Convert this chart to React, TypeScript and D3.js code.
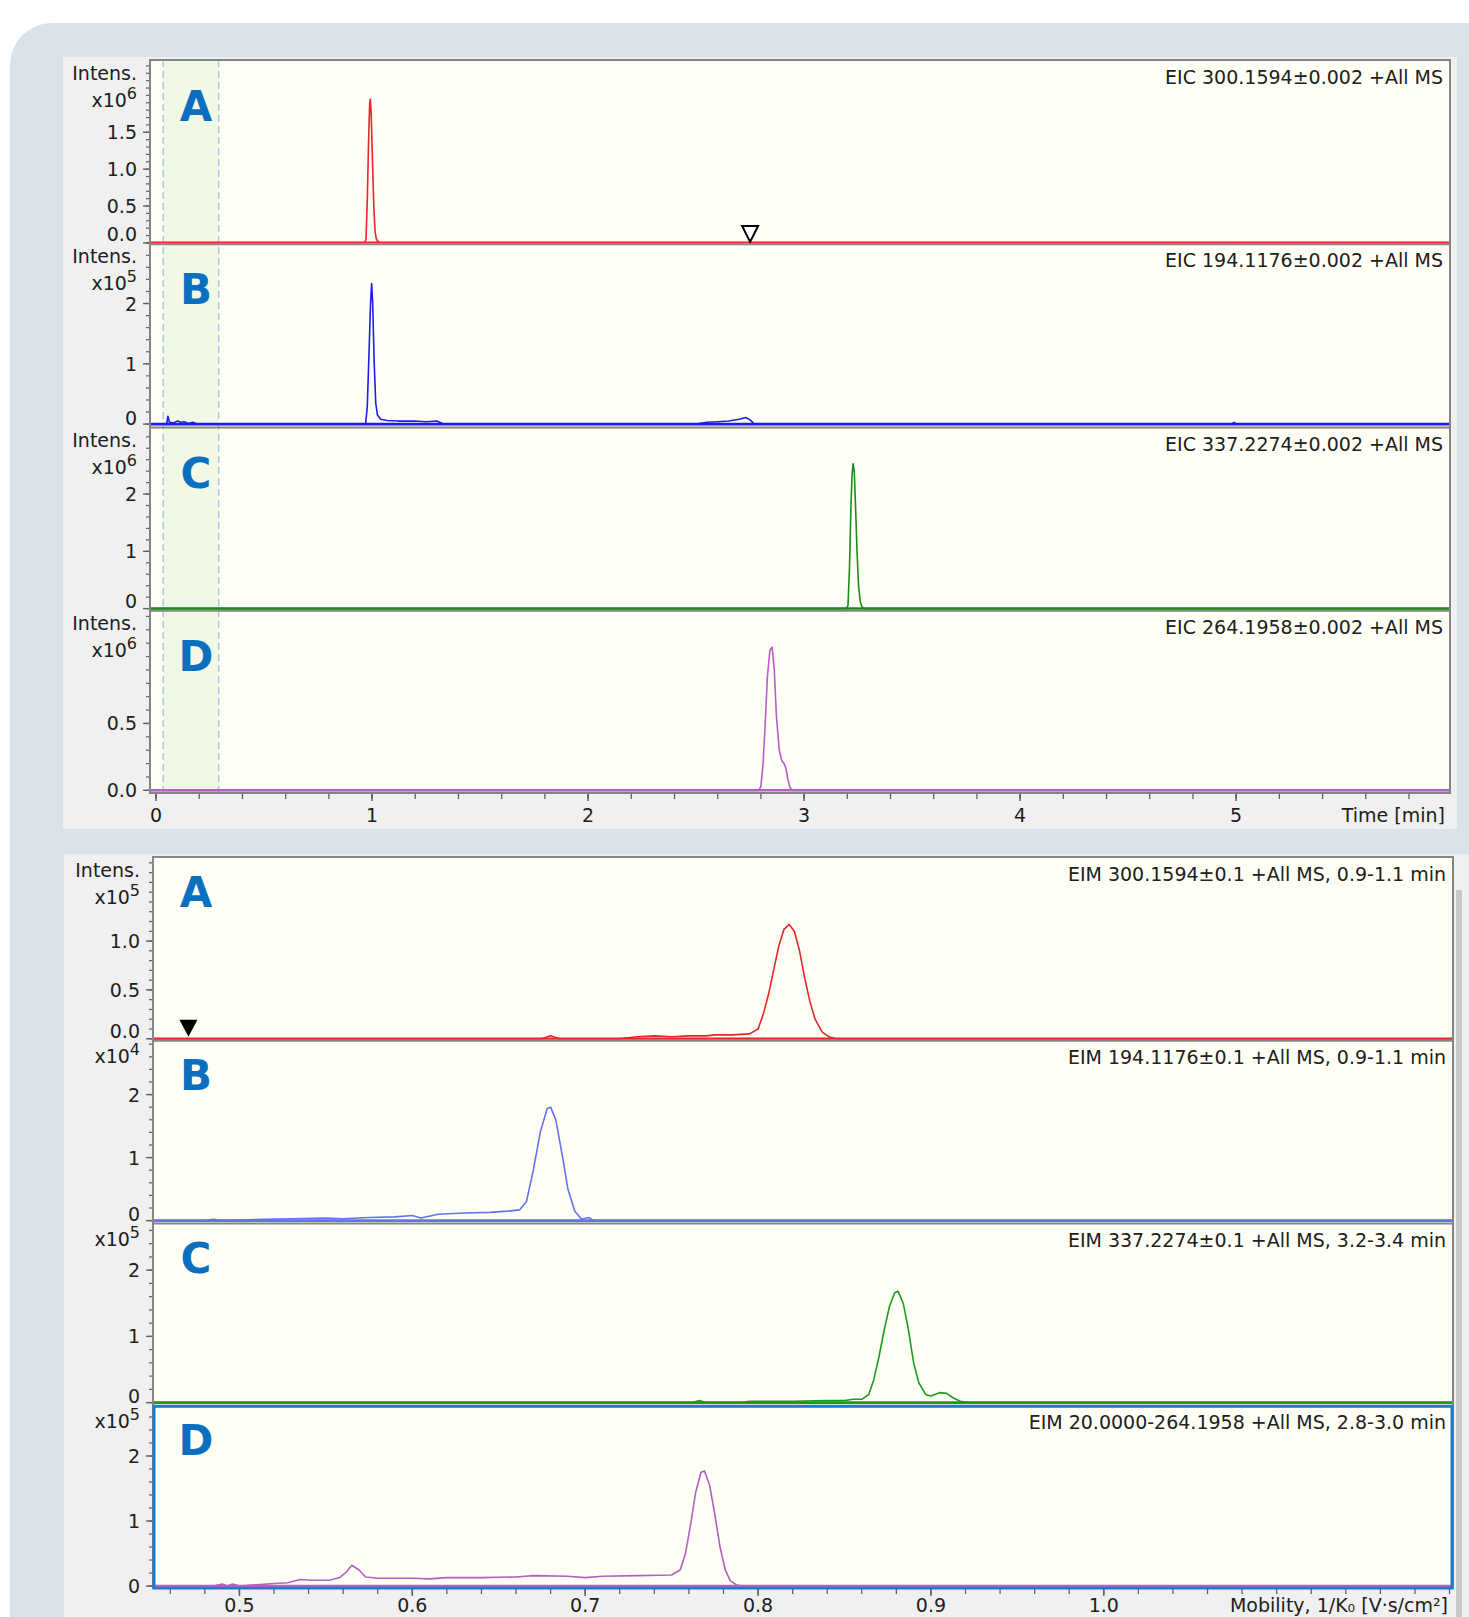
import * as d3 from "d3";

// ---------- data ----------
const letters = ["A", "B", "C", "D"];

// top: extracted ion chromatograms, x = time [min]
const eicTitles = [
  "EIC 300.1594±0.002 +All MS",
  "EIC 194.1176±0.002 +All MS",
  "EIC 337.2274±0.002 +All MS",
  "EIC 264.1958±0.002 +All MS",
];
const eicExp = [6, 5, 6, 6];
const eicXTicks = [0, 1, 2, 3, 4, 5];
const eicYLabels = [[0, 0.5, 1, 1.5], [0, 1, 2], [0, 1, 2], [0, 0.5]];
const eicYMinor = [0.1, 0.2, 0.2, 0.1];
const eicYDecimals = [1, 0, 0, 1];
const eicYDomains: [number, number][] = [[-0.005, 2.48], [-0.04, 3.0], [-0.02, 3.18], [-0.02, 1.35]];
const eicHighlight = [0.033, 0.29];
const eicMarker = 2.75;

const eicA: [number, number][] = [
  [-0.03, 0], [0.965, 0], [0.972, 0.05], [0.978, 0.6], [0.984, 1.4], [0.989, 1.9], [0.992, 1.95],
  [0.996, 1.75], [1.002, 1.1], [1.008, 0.5], [1.014, 0.15], [1.02, 0.05], [1.028, 0.02], [1.035, 0], [6.0, 0],
];
const eicB: [number, number][] = [
  [-0.03, 0], [0.045, 0], [0.05, 0.02], [0.055, 0.13], [0.062, 0.03], [0.08, 0.02], [0.1, 0.05],
  [0.115, 0.03], [0.13, 0.04], [0.15, 0.01], [0.17, 0.03], [0.19, 0], [0.97, 0], [0.978, 0.3],
  [0.986, 1.2], [0.993, 2.0], [0.998, 2.33], [1.003, 2.0], [1.01, 1.0], [1.017, 0.35], [1.025, 0.15],
  [1.04, 0.08], [1.07, 0.06], [1.12, 0.05], [1.2, 0.05], [1.25, 0.04], [1.3, 0.05], [1.33, 0],
  [2.5, 0], [2.55, 0.03], [2.6, 0.04], [2.65, 0.05], [2.7, 0.08], [2.73, 0.11], [2.75, 0.07],
  [2.77, 0], [4.98, 0], [4.99, 0.03], [5.0, 0], [6.0, 0],
];
const eicC: [number, number][] = [
  [-0.03, 0], [3.195, 0], [3.203, 0.05], [3.21, 0.7], [3.217, 1.8], [3.222, 2.35], [3.227, 2.53],
  [3.232, 2.4], [3.238, 1.8], [3.245, 1.0], [3.252, 0.4], [3.26, 0.12], [3.268, 0.03], [3.28, 0], [6.0, 0],
];
const eicD: [number, number][] = [
  [-0.03, 0], [2.79, 0], [2.8, 0.03], [2.81, 0.2], [2.82, 0.5], [2.83, 0.85], [2.842, 1.05],
  [2.852, 1.07], [2.862, 0.9], [2.872, 0.55], [2.885, 0.3], [2.897, 0.22], [2.907, 0.2],
  [2.915, 0.17], [2.925, 0.08], [2.935, 0.02], [2.945, 0], [6.0, 0],
];

// bottom: extracted ion mobilograms, x = mobility 1/K0
const eimTitles = [
  "EIM 300.1594±0.1 +All MS, 0.9-1.1 min",
  "EIM 194.1176±0.1 +All MS, 0.9-1.1 min",
  "EIM 337.2274±0.1 +All MS, 3.2-3.4 min",
  "EIM 20.0000-264.1958 +All MS, 2.8-3.0 min",
];
const eimExp = [5, 4, 5, 5];
const eimXTicks = [0.5, 0.6, 0.7, 0.8, 0.9, 1.0];
const eimYLabels = [[0, 0.5, 1], [0, 1, 2], [0, 1, 2], [0, 1, 2]];
const eimYMinor = [0.1, 0.2, 0.2, 0.2];
const eimYDecimals = [1, 0, 0, 0];
const eimYDomains: [number, number][] = [[-0.01, 1.86], [-0.03, 2.87], [-0.04, 2.72], [-0.03, 2.78]];
const eimMarker = 0.4705;

const eimA: [number, number][] = [
  [0.45, 0], [0.675, 0], [0.68, 0.03], [0.685, 0], [0.72, 0], [0.73, 0.02], [0.74, 0.03], [0.75, 0.02],
  [0.76, 0.03], [0.77, 0.03], [0.775, 0.04], [0.785, 0.04], [0.795, 0.05], [0.8, 0.1], [0.803, 0.25],
  [0.806, 0.45], [0.809, 0.7], [0.812, 0.95], [0.815, 1.12], [0.818, 1.17], [0.821, 1.1], [0.824, 0.9],
  [0.827, 0.62], [0.83, 0.38], [0.833, 0.2], [0.837, 0.07], [0.841, 0.02], [0.845, 0], [1.21, 0],
];
const eimB: [number, number][] = [
  [0.45, 0], [0.48, 0], [0.485, 0.02], [0.49, 0], [0.5, 0.01], [0.515, 0.02], [0.53, 0.03],
  [0.55, 0.04], [0.56, 0.03], [0.575, 0.05], [0.59, 0.06], [0.6, 0.08], [0.605, 0.04], [0.615, 0.1],
  [0.63, 0.12], [0.645, 0.13], [0.655, 0.15], [0.662, 0.17], [0.666, 0.3], [0.67, 0.8], [0.674, 1.4],
  [0.678, 1.78], [0.68, 1.8], [0.683, 1.6], [0.687, 1.0], [0.69, 0.5], [0.694, 0.15], [0.698, 0.02],
  [0.702, 0.05], [0.705, 0], [1.21, 0],
];
const eimC: [number, number][] = [
  [0.45, 0], [0.762, 0], [0.766, 0.03], [0.77, 0], [0.79, 0], [0.795, 0.02], [0.82, 0.02], [0.84, 0.03],
  [0.85, 0.03], [0.855, 0.05], [0.86, 0.05], [0.864, 0.12], [0.867, 0.35], [0.87, 0.7], [0.873, 1.1],
  [0.876, 1.45], [0.879, 1.66], [0.881, 1.68], [0.884, 1.5], [0.887, 1.1], [0.89, 0.6], [0.893, 0.3],
  [0.897, 0.12], [0.9, 0.1], [0.905, 0.15], [0.909, 0.14], [0.913, 0.07], [0.917, 0.02], [0.922, 0], [1.21, 0],
];
const eimD: [number, number][] = [
  [0.45, 0], [0.485, 0], [0.49, 0.03], [0.493, 0], [0.496, 0.03], [0.5, 0], [0.51, 0.02], [0.52, 0.04],
  [0.528, 0.05], [0.535, 0.1], [0.542, 0.09], [0.552, 0.09], [0.558, 0.13], [0.562, 0.22], [0.565, 0.32],
  [0.569, 0.25], [0.573, 0.14], [0.58, 0.12], [0.6, 0.12], [0.61, 0.11], [0.62, 0.13], [0.64, 0.13],
  [0.66, 0.14], [0.67, 0.16], [0.69, 0.15], [0.7, 0.13], [0.71, 0.15], [0.73, 0.16], [0.75, 0.17],
  [0.755, 0.25], [0.758, 0.5], [0.761, 0.95], [0.764, 1.45], [0.767, 1.75], [0.769, 1.77], [0.772, 1.55],
  [0.775, 1.1], [0.778, 0.6], [0.781, 0.25], [0.784, 0.08], [0.788, 0.01], [0.792, 0], [1.21, 0],
];

const eicColors = ["#e8242c", "#1c1cf0", "#198c19", "#b45ec4"];
const eimColors = ["#e8242c", "#6272f0", "#1f9a1f", "#b260c0"];

// ---------- drawing ----------
const FONT = "'DejaVu Sans', Verdana, sans-serif";
const LABEL = "#202020";
const FRAME = "#858585";

type ChartCfg = {
  id: string;
  left: number;
  right: number;
  top: number;
  bottom: number;
  bg: [number, number, number, number];
  xDomain: [number, number];
  xTicks: number[];
  xMinor: number;
  xFmt: (v: number) => string;
  xTitle: string;
  xLabelDy: number;
  titles: string[];
  exps: number[];
  yLabels: number[][];
  yMinor: number[];
  yDec: number[];
  yDomains: [number, number][];
  series: [number, number][][];
  colors: string[];
  intensOnAll: boolean;
  titleDy: number;
  letterDy: number;
};

const Chart = ({ cfg }: { cfg: ChartCfg }) => {
  const x = d3.scaleLinear().domain(cfg.xDomain).range([cfg.left, cfg.right]);
  const h = (cfg.bottom - cfg.top) / 4;
  const bands = [0, 1, 2, 3].map((i) => [cfg.top + h * i, cfg.top + h * (i + 1)]);
  const xMinorTicks = d3
    .range(Math.ceil(cfg.xDomain[0] / cfg.xMinor), Math.floor(cfg.xDomain[1] / cfg.xMinor) + 1)
    .map((k) => +(k * cfg.xMinor).toFixed(4));

  return (
    <g>
      <rect x={cfg.bg[0]} y={cfg.bg[1]} width={cfg.bg[2] - cfg.bg[0]} height={cfg.bg[3] - cfg.bg[1]} fill="#f0f0f0" />
      <rect x={cfg.left} y={cfg.top} width={cfg.right - cfg.left} height={cfg.bottom - cfg.top} fill="#fffff5" />
      {cfg.id === "eic" && (
        <g>
          <rect
            x={x(eicHighlight[0])}
            y={cfg.top}
            width={x(eicHighlight[1]) - x(eicHighlight[0])}
            height={cfg.bottom - cfg.top}
            fill="#f1f8e6"
          />
          {eicHighlight.map((v, i) => (
            <line key={i} x1={x(v)} x2={x(v)} y1={cfg.top} y2={cfg.bottom} stroke="#a8c9e4" strokeWidth={1.5} strokeDasharray="7 4" />
          ))}
        </g>
      )}
      {bands.map(([b0, b1], i) => {
        const y = d3.scaleLinear().domain(cfg.yDomains[i]).range([b1, b0]);
        const yMinorTicks = d3
          .range(Math.ceil(cfg.yDomains[i][0] / cfg.yMinor[i] - 1e-6), Math.floor(cfg.yDomains[i][1] / cfg.yMinor[i] + 1e-6) + 1)
          .map((k) => k * cfg.yMinor[i]);
        const line = d3
          .line<[number, number]>()
          .x((d) => x(d[0]))
          .y((d) => y(d[1]));
        const last = i === 3;
        const clipId = `${cfg.id}-clip-${i}`;
        return (
          <g key={i}>
            <clipPath id={clipId}>
              <rect x={cfg.left} y={b0} width={cfg.right - cfg.left} height={b1 - b0} />
            </clipPath>
            {/* y ticks */}
            {yMinorTicks.map((v, k) => (
              <line key={k} x1={cfg.left - 4} x2={cfg.left} y1={y(v)} y2={y(v)} stroke="#606060" strokeWidth={1.2} />
            ))}
            {cfg.yLabels[i].map((v, k) => {
              let cy = y(v);
              if (!last && cy + 8 > b1) cy = b1 - 9;
              return (
                <g key={k}>
                  <line x1={cfg.left - 7} x2={cfg.left} y1={y(v)} y2={y(v)} stroke="#606060" strokeWidth={1.4} />
                  <text x={cfg.left - 13} y={cy + 7} textAnchor="end" fontSize={19} fill={LABEL}>
                    {v.toFixed(cfg.yDec[i])}
                  </text>
                </g>
              );
            })}
            {(cfg.intensOnAll || i === 0) && (
              <text x={cfg.left - 13} y={b0 + 20} textAnchor="end" fontSize={19} fill={LABEL}>
                Intens.
              </text>
            )}
            <text
              x={cfg.left - 13}
              y={b0 + (cfg.intensOnAll || i === 0 ? 47 : 23)}
              textAnchor="end"
              fontSize={19}
              fill={LABEL}
            >
              x10
              <tspan dy={-8} fontSize={16}>
                {cfg.exps[i]}
              </tspan>
            </text>
            {/* trace */}
            <g clipPath={`url(#${clipId})`}>
              <line x1={cfg.left} x2={cfg.right} y1={y(0)} y2={y(0)} stroke={cfg.colors[i]} strokeWidth={2.6} />
              <path d={line(cfg.series[i]) ?? ""} fill="none" stroke={cfg.colors[i]} strokeWidth={1.6} strokeLinejoin="round" />
            </g>
            {/* boundary */}
            {!last && <line x1={cfg.left} x2={cfg.right} y1={b1 + 1} y2={b1 + 1} stroke={FRAME} strokeWidth={1.8} />}
            <text x={cfg.right - 7} y={b0 + cfg.titleDy} textAnchor="end" fontSize={19} fill={LABEL}>
              {cfg.titles[i]}
            </text>
            <text x={196} y={b0 + cfg.letterDy} textAnchor="middle" fontSize={42} fontWeight="bold" fill="#0b6fbf">
              {letters[i]}
            </text>
          </g>
        );
      })}
      <rect
        x={cfg.left}
        y={cfg.top}
        width={cfg.right - cfg.left}
        height={cfg.bottom - cfg.top}
        fill="none"
        stroke={FRAME}
        strokeWidth={2}
      />
      {/* x axis */}
      {xMinorTicks.map((v, k) => (
        <line key={k} x1={x(v)} x2={x(v)} y1={cfg.bottom + 1} y2={cfg.bottom + 6} stroke="#606060" strokeWidth={1.3} />
      ))}
      {cfg.xTicks.map((v, k) => (
        <g key={k}>
          <line x1={x(v)} x2={x(v)} y1={cfg.bottom + 1} y2={cfg.bottom + 8} stroke="#606060" strokeWidth={1.5} />
          <text x={x(v)} y={cfg.bottom + cfg.xLabelDy} textAnchor="middle" fontSize={19} fill={LABEL}>
            {cfg.xFmt(v)}
          </text>
        </g>
      ))}
      <text x={cfg.right - 5} y={cfg.bottom + cfg.xLabelDy} textAnchor="end" fontSize={19} fill={LABEL}>
        {cfg.xTitle}
      </text>
    </g>
  );
};

const eicCfg: ChartCfg = {
  id: "eic",
  left: 150,
  right: 1450,
  top: 60,
  bottom: 793,
  bg: [63, 57, 1457, 829],
  xDomain: [-0.028, 5.99],
  xTicks: eicXTicks,
  xMinor: 0.2,
  xFmt: (v) => String(v),
  xTitle: "Time [min]",
  xLabelDy: 29,
  titles: eicTitles,
  exps: eicExp,
  yLabels: eicYLabels,
  yMinor: eicYMinor,
  yDec: eicYDecimals,
  yDomains: eicYDomains,
  series: [eicA, eicB, eicC, eicD],
  colors: eicColors,
  intensOnAll: true,
  titleDy: 24,
  letterDy: 61,
};

const eimCfg: ChartCfg = {
  id: "eim",
  left: 153,
  right: 1453,
  top: 857,
  bottom: 1588,
  bg: [64, 854, 1469, 1617],
  xDomain: [0.45, 1.202],
  xTicks: eimXTicks,
  xMinor: 0.02,
  xFmt: (v) => v.toFixed(1),
  xTitle: "Mobility, 1/K₀ [V·s/cm²]",
  xLabelDy: 24,
  titles: eimTitles,
  exps: eimExp,
  yLabels: eimYLabels,
  yMinor: eimYMinor,
  yDec: eimYDecimals,
  yDomains: eimYDomains,
  series: [eimA, eimB, eimC, eimD],
  colors: eimColors,
  intensOnAll: false,
  titleDy: 24,
  letterDy: 50,
};

const App = () => {
  const xTop = d3.scaleLinear().domain(eicCfg.xDomain).range([eicCfg.left, eicCfg.right]);
  const xBot = d3.scaleLinear().domain(eimCfg.xDomain).range([eimCfg.left, eimCfg.right]);
  const hTop = (eicCfg.bottom - eicCfg.top) / 4;
  const hBot = (eimCfg.bottom - eimCfg.top) / 4;
  const yTopA = d3.scaleLinear().domain(eicYDomains[0]).range([eicCfg.top + hTop, eicCfg.top]);
  const yBotA = d3.scaleLinear().domain(eimYDomains[0]).range([eimCfg.top + hBot, eimCfg.top]);
  const mt = xTop(eicMarker);
  const mb = xBot(eimMarker);
  const t0 = yTopA(0) - 1;
  const b0 = yBotA(0) - 2;
  const dTop = eimCfg.top + hBot * 3;
  return (
    <div style={{ position: "absolute", left: 0, top: 0 }}>
      <svg width={1469} height={1617} style={{ display: "block" }} fontFamily={FONT}>
        <rect width={1469} height={1617} fill="#ffffff" />
        <path d="M10,1617 L10,65 A42,42 0 0 1 52,23 L1469,23 L1469,1617 Z" fill="#dae2ea" />
        <Chart cfg={eicCfg} />
        <Chart cfg={eimCfg} />
        {/* selected panel frame */}
        <rect
          x={eimCfg.left + 1}
          y={dTop + 1}
          width={eimCfg.right - eimCfg.left - 2}
          height={eimCfg.bottom - dTop - 1}
          fill="none"
          stroke="#1f7bcb"
          strokeWidth={3}
        />
        <line x1={eimCfg.left + 3} x2={eimCfg.right - 3} y1={eimCfg.bottom - 2} y2={eimCfg.bottom - 2} stroke={eimColors[3]} strokeWidth={2} />
        {/* scrollbar strip */}
        <rect x={1456} y={890} width={6} height={727} fill="#c8c8c8" />
        {/* markers */}
        <path d={`M${mt - 8},${t0 - 16} L${mt + 8},${t0 - 16} L${mt},${t0} Z`} fill="#ffffff" stroke="#000" strokeWidth={2} />
        <path d={`M${mb - 9},${b0 - 17} L${mb + 9},${b0 - 17} L${mb},${b0} Z`} fill="#000" />
      </svg>
    </div>
  );
};

export default App;
